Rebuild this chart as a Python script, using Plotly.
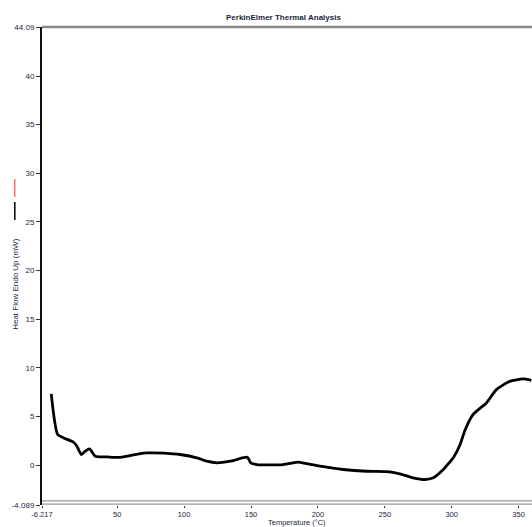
import plotly.graph_objects as go

# Data
temperature_c = [0.7, 5.5, 9.9, 17.4, 19.9, 23.1, 26.1, 29.3, 33.6, 42.3, 49.8, 54.7,
                 67.2, 72.2, 77.1, 92.0, 97.0, 109.5, 116.9, 124.4, 134.3, 146.8,
                 148.0, 149.8, 154.3, 164.2, 174.1, 181.6, 185.3, 201.5, 218.9,
                 236.3, 253.7, 261.2, 271.1, 280.0, 286.2, 293.7, 298.7, 301.2,
                 306.2, 309.9, 315.9, 325.9, 333.4, 343.3, 353.3, 359.5]
heat_flow_mw = [7.33, 3.15, 2.81, 2.36, 1.95, 1.10, 1.44, 1.68, 0.92, 0.86, 0.80, 0.86,
                1.20, 1.27, 1.27, 1.17, 1.10, 0.76, 0.41, 0.25, 0.41, 0.82,
                0.69, 0.25, 0.07, 0.03, 0.07, 0.25, 0.31, -0.10, -0.44,
                -0.62, -0.68, -0.88, -1.29, -1.47, -1.29, -0.44, 0.35, 0.76,
                2.10, 3.60, 5.20, 6.40, 7.77, 8.62, 8.87, 8.73]

x_tick_vals = [-6.217, 50, 100, 150, 200, 250, 300, 350]
x_tick_text = ["-6.217", "50", "100", "150", "200", "250", "300", "350"]
y_tick_vals = [-4.089, 0, 5, 10, 15, 20, 25, 30, 35, 40, 45.04]
y_tick_text = ["-4.089", "0", "5", "10", "15", "20", "25", "30", "35", "40", "44.09"]

X_RANGE = [-6.217, 360]
Y_RANGE = [-4.089, 45.04]

FONT = "Liberation Sans, Arial, sans-serif"
TICK_COLOR = "#1a1f3a"

fig = go.Figure()
fig.add_trace(go.Scatter(
    x=temperature_c, y=heat_flow_mw, mode="lines",
    line=dict(color="black", width=2.8, shape="spline", smoothing=0.6),
    hoverinfo="skip", showlegend=False,
))

fig.update_layout(
    width=532, height=527,
    margin=dict(l=42, r=0, t=27, b=22),
    paper_bgcolor="white", plot_bgcolor="white",
    font=dict(family=FONT, size=8, color=TICK_COLOR),
    xaxis=dict(range=X_RANGE, tickvals=x_tick_vals, ticktext=x_tick_text,
               showgrid=False, zeroline=False, showline=False,
               ticks="outside", ticklen=2, tickwidth=1, tickcolor="#333",
               tickfont=dict(size=7.5, color=TICK_COLOR)),
    yaxis=dict(range=Y_RANGE, tickvals=y_tick_vals, ticktext=y_tick_text,
               showgrid=False, zeroline=False, showline=True,
               linecolor="#111", linewidth=2,
               ticks="outside", ticklen=4, tickwidth=1, tickcolor="#333",
               tickfont=dict(size=8, color=TICK_COLOR)),
    shapes=[
        dict(type="line", xref="paper", yref="paper", x0=0, x1=1, y0=1, y1=1,
             line=dict(color="#8a8a8a", width=2.5)),
        dict(type="line", xref="paper", yref="paper", x0=0, x1=1, y0=0.0085, y1=0.0085,
             line=dict(color="#9a9a9a", width=1.2)),
        dict(type="line", xref="paper", yref="paper", x0=0, x1=1, y0=0.002, y1=0.002,
             line=dict(color="#9a9a9a", width=1.2)),
        # legend-like marks next to the y title
        dict(type="line", xref="paper", yref="paper", x0=-0.0555, x1=-0.0555,
             y0=(505 - 197) / 478, y1=(505 - 179) / 478,
             line=dict(color="#ff7070", width=1.5)),
        dict(type="line", xref="paper", yref="paper", x0=-0.0555, x1=-0.0555,
             y0=(505 - 220) / 478, y1=(505 - 202) / 478,
             line=dict(color="black", width=1.5)),
    ],
    annotations=[
        dict(text="<b>PerkinElmer Thermal Analysis</b>", xref="paper", yref="paper",
             x=(283 - 42) / 490, y=1, xanchor="center", yanchor="middle", yshift=10,
             showarrow=False, font=dict(size=8, color=TICK_COLOR)),
        dict(text="Heat Flow Endo Up (mW)", xref="paper", yref="paper",
             x=-0.0555, y=(505 - 284) / 478, xanchor="center", yanchor="middle",
             textangle=-90, showarrow=False,
             font=dict(size=8, color=TICK_COLOR)),
        dict(text="Temperature (°C)", xref="paper", yref="paper",
             x=(297 - 42) / 490, y=0, xanchor="center", yanchor="top", yshift=-12,
             showarrow=False, borderpad=0, font=dict(size=7.5, color=TICK_COLOR)),
    ],
)

fig.write_html("out.html")
